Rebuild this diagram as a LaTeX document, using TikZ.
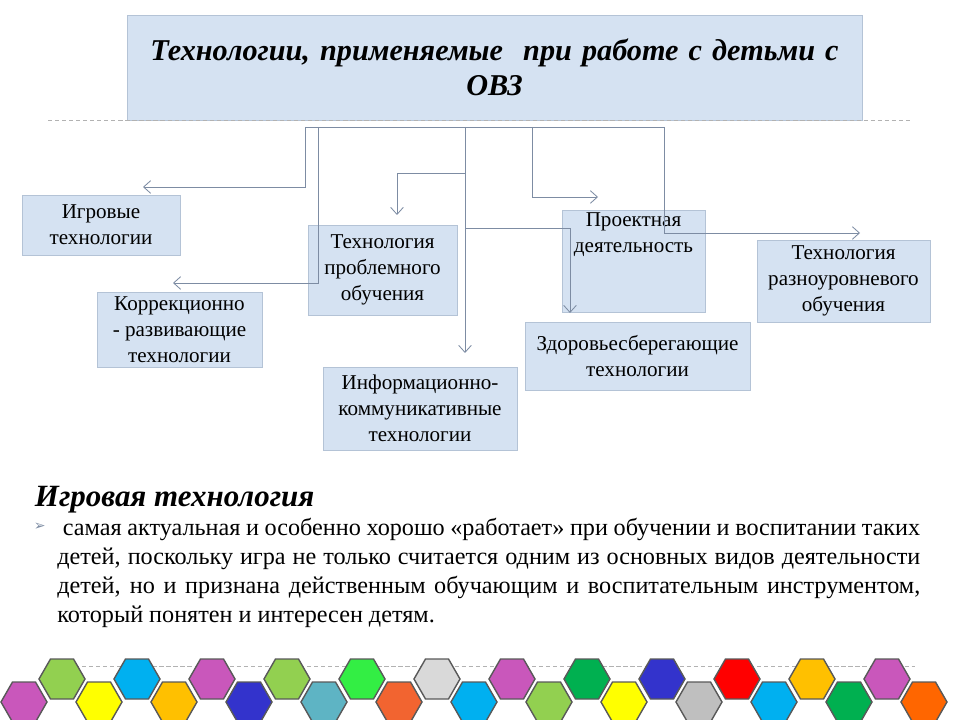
\documentclass[tikz,border=0pt]{standalone}
\usepackage{fontspec}
\setmainfont{Liberation Serif}
\newfontfamily\symfont{DejaVu Sans}
\usetikzlibrary{arrows.meta,positioning}
\definecolor{boxfill}{HTML}{D5E2F2}
\definecolor{boxline}{HTML}{B4C3D6}
\definecolor{wire}{HTML}{7D8CA3}
\definecolor{hMag}{HTML}{C957BB}
\definecolor{hLime}{HTML}{92D050}
\definecolor{hCyan}{HTML}{00B0F0}
\definecolor{hYel}{HTML}{FFFF00}
\definecolor{hAmb}{HTML}{FFC000}
\definecolor{hBlue}{HTML}{3333CC}
\definecolor{hTeal}{HTML}{5EB4C4}
\definecolor{hGrn}{HTML}{33EE44}
\definecolor{hOra}{HTML}{F26430}
\definecolor{hLgr}{HTML}{D9D9D9}
\definecolor{hDgr}{HTML}{00B050}
\definecolor{hSil}{HTML}{BFBFBF}
\definecolor{hRed}{HTML}{FF0000}
\definecolor{hOrb}{HTML}{FF6600}
\begin{document}
\begin{tikzpicture}[
    x=0.025cm, y=-0.025cm,
    tech/.style={draw=boxline, fill=boxfill, align=center, inner sep=2pt,
      font=\fontsize{15}{18.5}\selectfont},
    arr/.style={-{Straight Barb[length=5pt,width=9pt]}, draw=wire, line width=0.6pt},
    hexa/.style={draw=black!65, line width=1pt}
  ]
    \useasboundingbox (0,0) rectangle (960,720);
    % title
    \node[draw=boxline, fill=boxfill, minimum width=735*0.025cm, minimum height=105*0.025cm,
      text width=735*0.025cm, inner xsep=0pt, align=center, font=\fontsize{21.5}{25}\selectfont\bfseries\itshape]
      (T) at (494.5,67.5) {Технологии, применяемые\ \ при работе с детьми с\\ ОВЗ\\[12pt]};
    \draw[densely dashed, black!30] (48,120) -- (912,120);

    % boxes
    \node[tech, minimum width=158*0.025cm, minimum height=60*0.025cm] (G) at (101,225) {Игровые\\технологии};
    \node[tech, minimum width=149*0.025cm, minimum height=90*0.025cm] (PO) at (382.5,270) {Технология\\проблемного\\обучения};
    \node[tech, minimum width=143*0.025cm, minimum height=75*0.025cm, anchor=north] (PD) at (633.5,210) {Проектная\\деятельность\\[22pt]};
    \node[tech, minimum width=173*0.025cm, minimum height=82*0.025cm] (RO) at (843.5,281) {Технология\\разноуровневого\\обучения};
    \node[tech, minimum width=165*0.025cm, minimum height=75*0.025cm] (KR) at (179.5,329.5) {Коррекционно\\- развивающие\\технологии};
    \node[tech, minimum width=225*0.025cm, minimum height=68*0.025cm] (ZS) at (637.5,356) {Здоровьесберегающие\\технологии};
    \node[tech, minimum width=194*0.025cm, minimum height=83*0.025cm] (IK) at (420,408.5) {Информационно-\\коммуникативные\\технологии};

    % connectors
    \coordinate (bL) at (305,127);
    \coordinate (bR) at (664,127);
    \coordinate (aG) at (143,187);
    \coordinate (aK) at (173,283);
    \coordinate (aI) at (465,353);
    \coordinate (aP) at (397,215);
    \coordinate (aZ) at (570,313);
    \coordinate (aD) at (598,197);
    \coordinate (aR) at (860,233);
    \draw[draw=wire, line width=0.6pt] (bL) -- (bR);
    \draw[arr] (bL) |- (aG);
    \draw[arr] (318,127) |- (aK);
    \draw[arr] (465,127) -- (aI);
    \draw[arr] (465,173) -| (aP);
    \draw[arr] (465,228) -| (aZ);
    \draw[arr] (532,127) |- (aD);
    \draw[arr] (bR) |- (aR);

    % text
    \node[anchor=west, font=\fontsize{22}{25}\selectfont\bfseries\itshape] (H) at (30,500) {Игровая технология};
    \node[anchor=west, text=wire, font=\symfont\fontsize{10}{10}\selectfont] (B) at (29,527) {➢};
    \node[anchor=north west, text width=863*0.025cm, align=justify, inner sep=0pt,
      font=\fontsize{17.2}{20.7}\selectfont] (P) at (57,518)
      {\ самая актуальная и особенно хорошо «работает» при обучении и воспитании таких\linebreak
       детей, поскольку игра не только считается одним из основных видов деятельности\linebreak
       детей, но и признана действенным обучающим и воспитательным инструментом,\linebreak
       который понятен и интересен детям.};

    % hexagons
    \draw[densely dashed, black!30] (75,666) -- (915,666);
    \foreach \c [count=\i from 0] in {hLime,hCyan,hMag,hLime,hGrn,hLgr,hMag,hDgr,hBlue,hRed,hAmb,hMag}
      \draw[hexa, fill=\c] ({62+75*\i-23},679) -- ++(11.5,-20) -- ++(23,0) -- ++(11.5,20)
        -- ++(-11.5,20) -- ++(-23,0) -- cycle;
    \foreach \c [count=\i from 0] in {hMag,hYel,hAmb,hBlue,hTeal,hOra,hCyan,hLime,hYel,hSil,hCyan,hDgr,hOrb}
      \draw[hexa, fill=\c] ({24+75*\i-23},702) -- ++(11.5,-20) -- ++(23,0) -- ++(11.5,20)
        -- ++(-11.5,20) -- ++(-23,0) -- cycle;
\end{tikzpicture}
\end{document}
